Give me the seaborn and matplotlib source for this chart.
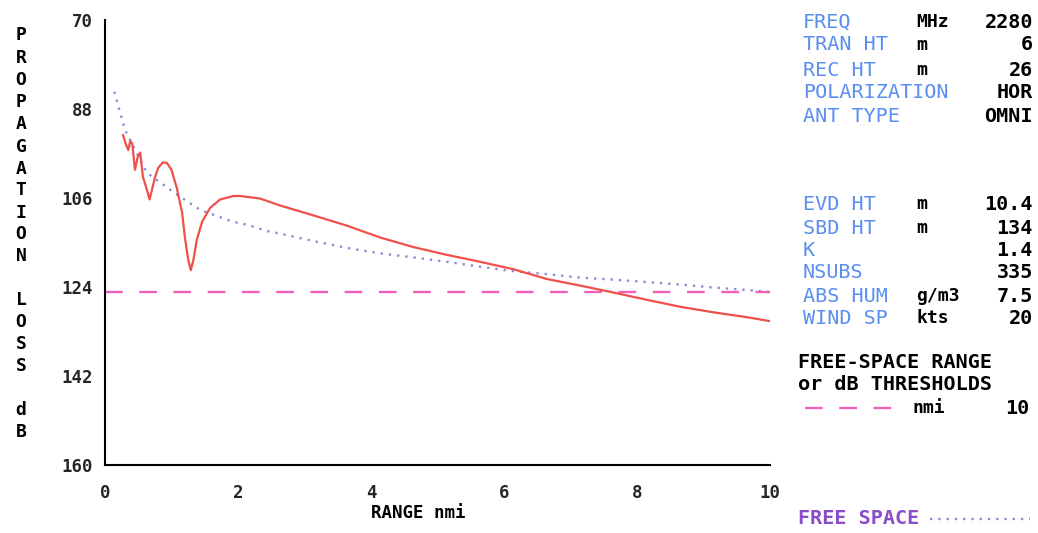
import matplotlib
matplotlib.use("Agg")
import matplotlib.pyplot as plt
import seaborn as sns
from matplotlib.lines import Line2D

sns.set_style("white")
plt.rcParams['font.family'] = ['DejaVu Sans Mono', 'DejaVu Sans']

# ---- data ----
loss_range = [0.27, 0.31, 0.35, 0.38, 0.41, 0.45, 0.49, 0.53, 0.57, 0.63, 0.67, 0.70, 0.75,
              0.80, 0.87, 0.93, 1.00, 1.08, 1.16, 1.20, 1.25, 1.29, 1.33, 1.38, 1.46, 1.58,
              1.73, 1.93, 2.03, 2.33, 2.63, 3.13, 3.64, 4.14, 4.63, 5.14, 5.64, 6.14, 6.65,
              7.14, 7.64, 8.15, 8.65, 9.14, 9.65, 10.0]
loss_db = [93.2, 95.0, 96.3, 94.5, 95.0, 100.3, 97.8, 96.8, 101.7, 104.3, 106.3, 104.7, 101.9,
           99.9, 98.8, 98.9, 100.3, 104.0, 109.0, 113.8, 118.4, 120.6, 118.5, 114.5, 110.8,
           108.0, 106.3, 105.6, 105.6, 106.1, 107.5, 109.5, 111.6, 114.0, 115.9, 117.5, 118.9,
           120.4, 122.4, 123.7, 125.1, 126.6, 128.0, 129.1, 130.1, 130.9]

fs_range = [0.14, 0.30, 0.63, 1.08, 1.43, 1.92, 2.14, 2.44, 2.63, 3.13, 3.64, 4.14, 4.63, 5.14,
            5.64, 6.14, 6.65, 7.14, 7.64, 8.15, 8.65, 9.14, 9.65, 10.0]
fs_db = [84.5, 92.2, 100.9, 105.3, 108.4, 110.8, 111.4, 112.7, 113.2, 114.7, 116.1, 117.2, 118.0,
         118.9, 119.9, 120.8, 121.4, 122.1, 122.5, 123.0, 123.5, 124.1, 124.6, 125.0]

threshold_range = [0.0, 10.0]
threshold_db = [125.0, 125.0]

x_ticks = [0, 2, 4, 6, 8, 10]
y_ticks = [70, 88, 106, 124, 142, 160]

param_labels = ["FREQ", "TRAN HT", "REC HT", "POLARIZATION", "ANT TYPE",
                "EVD HT", "SBD HT", "K", "NSUBS", "ABS HUM", "WIND SP"]
param_units = ["MHz", "m", "m", "", "", "m", "m", "", "", "g/m3", "kts"]
param_values = ["2280", "6", "26", "HOR", "OMNI", "10.4", "134", "1.4", "335", "7.5", "20"]

# ---- colours ----
RED = "#f0504a"
DOT = "#8c8cd8"
PINK = "#f060b8"
BLUE = "#5a8ef0"
PURPLE = "#8a4cc8"

W, H = 1038, 533
fig = plt.figure(figsize=(W / 100, H / 100), dpi=100)
ax = fig.add_axes([105 / W, 1 - 465 / H, (770 - 105) / W, (465 - 20) / H])

sns.lineplot(x=fs_range, y=fs_db, ax=ax, color=DOT, linestyle=(0, (1, 2.5)), linewidth=1.7,
             sort=False, estimator=None)
sns.lineplot(x=threshold_range, y=threshold_db, ax=ax, color=PINK, linestyle=(0, (7.5, 7)),
             linewidth=1.7, sort=False, estimator=None)
sns.lineplot(x=loss_range, y=loss_db, ax=ax, color=RED, linewidth=1.6, sort=False,
             estimator=None)

ax.set_xlim(0, 10)
ax.set_ylim(160, 70)
ax.set_xticks(x_ticks)
ax.set_yticks(y_ticks)
ax.set_xticklabels([str(t) for t in x_ticks], fontsize=12.5, fontweight="bold")
ax.set_yticklabels([str(t) for t in y_ticks], fontsize=12.5, fontweight="bold")
ax.tick_params(axis="both", direction="out", length=9, width=1.3, color="black", pad=0)
ax.tick_params(axis="x", pad=5)
for s in ["top", "right"]:
    ax.spines[s].set_visible(False)
for s in ["left", "bottom"]:
    ax.spines[s].set_color("black")
    ax.spines[s].set_linewidth(1.5)
ax.set_facecolor("white")
ax.grid(False)


def fx(px):
    return px / W


def fy(py):
    return 1 - py / H


# x axis label
fig.text(fx(418), fy(513), "RANGE nmi", ha="center", va="center", fontsize=12.5,
         fontweight="bold", color="black")

# left stacked vertical label
letters = [("P", 35), ("R", 58), ("O", 80), ("P", 102), ("A", 124), ("G", 147), ("A", 169),
           ("T", 190), ("I", 213), ("O", 234), ("N", 256), ("L", 300), ("O", 322),
           ("S", 344), ("S", 366), ("d", 410), ("B", 432)]
for ch, py in letters:
    fig.text(fx(21), fy(py), ch, ha="center", va="center", fontsize=13, fontweight="bold",
             color="black")

# right parameter panel
rows_y = [22, 45, 70, 93, 116, 204, 228, 250, 272, 296, 318]
for lab, unit, val, py in zip(param_labels, param_units, param_values, rows_y):
    fig.text(fx(803), fy(py), lab, ha="left", va="center", fontsize=14.5, color=BLUE)
    if unit:
        fig.text(fx(916), fy(py), unit, ha="left", va="center", fontsize=13,
                 fontweight="bold", color="black")
    fig.text(fx(1033), fy(py), val, ha="right", va="center", fontsize=14.5,
             fontweight="bold", color="black")

fig.text(fx(798), fy(362), "FREE-SPACE RANGE", ha="left", va="center", fontsize=14.5,
         fontweight="bold", color="black")
fig.text(fx(798), fy(384), "or dB THRESHOLDS", ha="left", va="center", fontsize=14.5,
         fontweight="bold", color="black")
fig.add_artist(Line2D([fx(805), fx(893)], [fy(408), fy(408)], color=PINK, linewidth=1.7,
                      linestyle=(0, (7.5, 7))))
fig.text(fx(912), fy(408), "nmi", ha="left", va="center", fontsize=13, fontweight="bold",
         color="black")
fig.text(fx(1029), fy(408), "10", ha="right", va="center", fontsize=14.5, fontweight="bold",
         color="black")

fig.text(fx(798), fy(518), "FREE SPACE", ha="left", va="center", fontsize=14.5,
         color=PURPLE, fontweight="bold")
fig.add_artist(Line2D([fx(930), fx(1030)], [fy(519), fy(519)], color=DOT, linewidth=1.7,
                      linestyle=(0, (1, 2.5))))

fig.savefig("out.png", dpi=100, facecolor="white")
